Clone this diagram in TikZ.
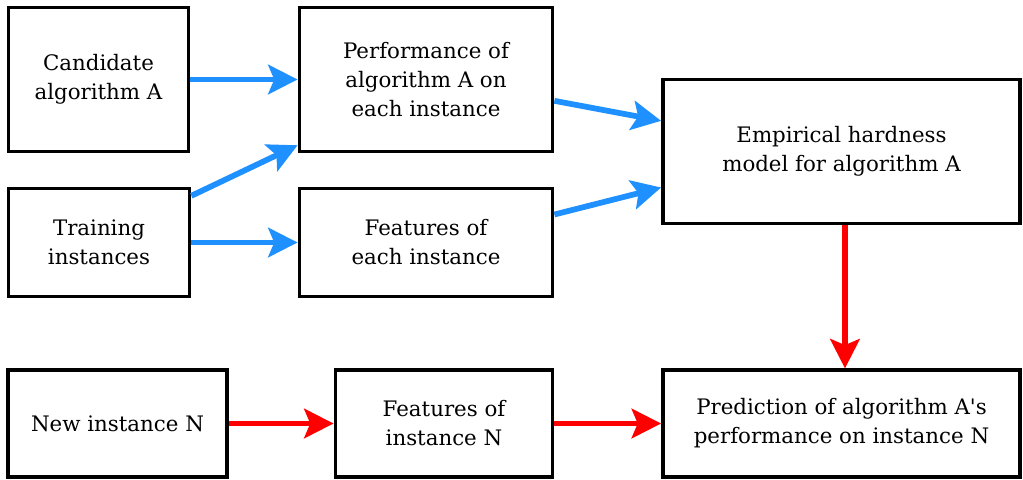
\documentclass[tikz,border=0pt]{standalone}
\usepackage{fontspec}
\setmainfont{DejaVu Serif}
\usetikzlibrary{arrows.meta}

\definecolor{flowblue}{RGB}{30,144,255}
\definecolor{flowred}{RGB}{255,0,0}

\tikzset{
  box/.style={draw, line width=2.6pt, align=center, inner sep=0pt,
    font=\fontsize{16}{21.75}\selectfont},
  trainarrow/.style={flowblue, line width=4.3pt,
    -{Stealth[length=22pt, width=22pt, inset=4.5pt]}},
  predarrow/.style={flowred, line width=4.3pt,
    -{Stealth[length=22pt, width=22pt, inset=4.5pt]}},
}

\begin{document}
\begin{tikzpicture}[x=0.75pt,y=0.75pt,yscale=-1,xscale=1]
\useasboundingbox (0,0) rectangle (1023,479);

%Shape: Rectangle [id:candidate]
\node[box, minimum width=135pt, minimum height=108pt] (cand) at (98.5,79.5) {Candidate\\algorithm A};
%Shape: Rectangle [id:performance]
\node[box, minimum width=190pt, minimum height=108pt] (perf) at (426,79.5) {Performance of\\algorithm A on\\each instance};
%Shape: Rectangle [id:training]
\node[box, minimum width=136pt, minimum height=81pt] (train) at (99,242.5) {Training\\instances};
%Shape: Rectangle [id:features]
\node[box, minimum width=190pt, minimum height=81pt] (feat) at (426,242.5) {Features of\\each instance};
%Shape: Rectangle [id:hardness]
\node[box, minimum width=268pt, minimum height=108pt] (model) at (841.5,151.5) {Empirical hardness\\model for algorithm A};
%Shape: Rectangle [id:newinst]
\node[box, minimum width=164pt, minimum height=80pt] (newi) at (117.5,423.5) {New instance N};
%Shape: Rectangle [id:newfeat]
\node[box, minimum width=163pt, minimum height=80pt] (featn) at (444,423.5) {Features of\\instance N};
%Shape: Rectangle [id:prediction]
\node[box, minimum width=268pt, minimum height=80pt] (pred) at (841.5,423.5) {Prediction of algorithm A\textquotesingle s\\performance on instance N};

%Straight Lines [training stage]
% (y is flipped, so a positive yshift moves down)
\draw[trainarrow] (cand) -- (perf);
\draw[trainarrow] ([yshift=6.75pt]train.north east) -- ([yshift=-6pt]perf.south west);
\draw[trainarrow] (train) -- (feat);
\draw[trainarrow] ([yshift=16pt]perf.east) -- ([yshift=-23pt]model.west);
\draw[trainarrow] ([yshift=-21pt]feat.east) -- ([yshift=27pt]model.west);

%Straight Lines [prediction stage]
\draw[predarrow] ([xshift=2.6pt]model.south) -- ([xshift=2.6pt]pred.north);
\draw[predarrow] (newi) -- (featn);
\draw[predarrow] (featn) -- (pred);

\end{tikzpicture}
\end{document}
